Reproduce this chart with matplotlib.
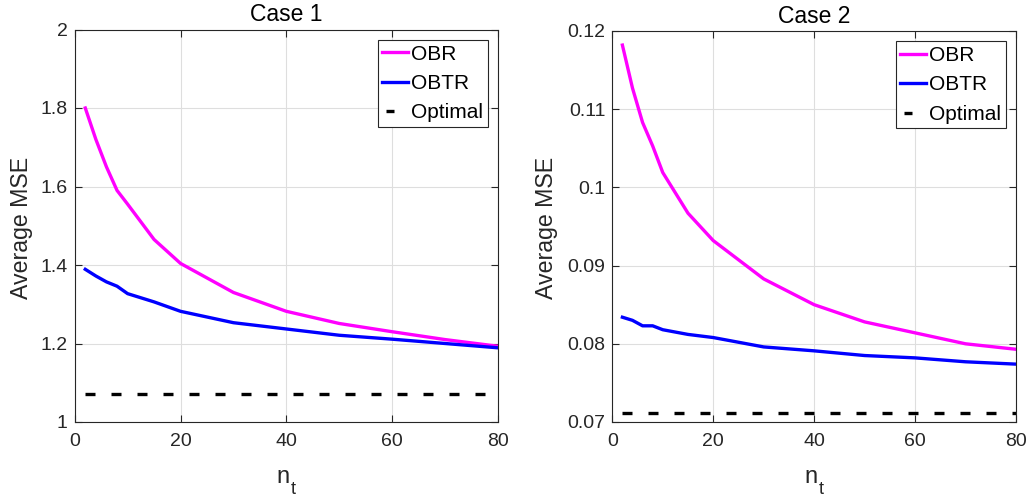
import matplotlib
matplotlib.use("Agg")
import matplotlib.pyplot as plt
from matplotlib.lines import Line2D
from matplotlib.transforms import offset_copy

# Data
n_t = [2, 4, 6, 8, 10, 15, 20, 30, 40, 50, 60, 70, 80]

obr_case1 = [1.800, 1.720, 1.650, 1.590, 1.555, 1.465, 1.404, 1.330, 1.282, 1.251, 1.230, 1.210, 1.193]
obtr_case1 = [1.389, 1.372, 1.357, 1.346, 1.327, 1.306, 1.282, 1.253, 1.237, 1.221, 1.211, 1.200, 1.189]
opt_case1 = 1.071

obr_case2 = [0.1182, 0.1127, 0.1083, 0.1053, 0.1019, 0.0967, 0.0932, 0.0883, 0.0850, 0.0828, 0.0814, 0.0800, 0.0793]
obtr_case2 = [0.0834, 0.0830, 0.0823, 0.0823, 0.0818, 0.0812, 0.0808, 0.0796, 0.0791, 0.0785, 0.0782, 0.0777, 0.0774]
opt_case2 = 0.0711

x_ticks = [0, 20, 40, 60, 80]
y_ticks1 = [1, 1.2, 1.4, 1.6, 1.8, 2]
y_labels1 = ["1", "1.2", "1.4", "1.6", "1.8", "2"]
y_ticks2 = [0.07, 0.08, 0.09, 0.1, 0.11, 0.12]
y_labels2 = ["0.07", "0.08", "0.09", "0.1", "0.11", "0.12"]

plt.rcParams['font.family'] = ['Liberation Sans', 'DejaVu Sans']

dark = '#262626'
W, H = 1031, 496
fig = plt.figure(figsize=(W / 100, H / 100), dpi=100)

ax1 = fig.add_axes([74.7 / W, 74 / H, (498 - 74.7) / W, (422 - 29.5) / H])
ax2 = fig.add_axes([612.3 / W, 74 / H, (1016 - 612.3) / W, (422 - 31.0) / H])

panels = [
    (ax1, obr_case1, obtr_case1, opt_case1, (1, 2), y_ticks1, y_labels1, "Case 1", 33),
    (ax2, obr_case2, obtr_case2, opt_case2, (0.07, 0.12), y_ticks2, y_labels2, "Case 2", 558),
]

lw = 2.4
for ax, obr, obtr, opt, ylim, yt, yl, title, ylab_x in panels:
    ax.plot(n_t, obr, color='#ff00ff', linewidth=lw, label='OBR')
    ax.plot(n_t, obtr, color='#0000ff', linewidth=lw, label='OBTR')
    ax.plot([n_t[0], n_t[-1]], [opt, opt], color='black', linewidth=lw,
            linestyle=(0, (3.0, 4.8)), label='Optimal')
    ax.set_xlim(0, 80)
    ax.set_ylim(*ylim)
    ax.set_xticks(x_ticks)
    ax.set_yticks(yt)
    ax.set_yticklabels(yl)
    ax.grid(True, color='#dedede', linewidth=0.8)
    ax.set_axisbelow(True)
    ax.tick_params(direction='in', top=True, right=True, length=5,
                   color=dark, labelcolor=dark, labelsize=14, width=0.8)
    ax.tick_params(axis='x', pad=8)
    ax.tick_params(axis='y', pad=5)
    for s in ax.spines.values():
        s.set_color(dark)
        s.set_linewidth(0.8)
    ax.set_title(title, fontsize=16.5, pad=6)

    # x label "n" with a MATLAB-style dropped subscript "t"
    ax.text(0.5, 0, 'n', fontsize=17, color=dark, ha='right', va='baseline',
            transform=offset_copy(ax.transAxes, fig, x=3.7, y=-61, units='dots'))
    ax.text(0.5, 0, 't', fontsize=13, color=dark, ha='left', va='baseline',
            transform=offset_copy(ax.transAxes, fig, x=4.7, y=-72, units='dots'))

    ax.set_ylabel('Average MSE', fontsize=16.7, color=dark)
    ax.yaxis.set_label_coords(ylab_x / W, (H - 227.5) / H, transform=fig.transFigure)

    handles = [
        Line2D([], [], color='#ff00ff', linewidth=lw),
        Line2D([], [], color='#0000ff', linewidth=lw),
        Line2D([], [], color='black', linewidth=lw, linestyle=(7.2, (2.4, 6.0))),
    ]
    leg = ax.legend(handles, ['OBR', 'OBTR', 'Optimal'], loc='upper right',
                    fontsize=15, handlelength=1.22, handletextpad=0.15,
                    borderpad=0.22, labelspacing=0.5, fancybox=False,
                    framealpha=1, edgecolor=dark, borderaxespad=0.5)
    leg.get_frame().set_linewidth(0.8)

fig.savefig("out.png", dpi=100)
